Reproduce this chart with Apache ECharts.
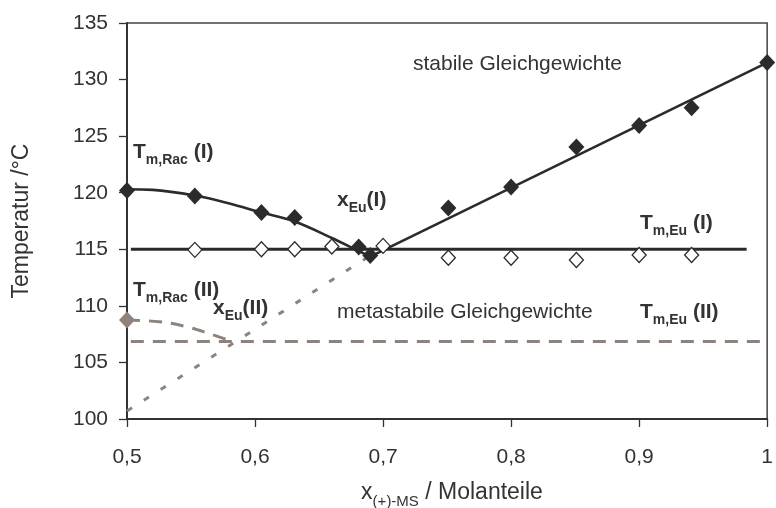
<!DOCTYPE html>
<html>
<head>
<meta charset="utf-8">
<script src="https://cdn.jsdelivr.net/npm/echarts@6/dist/echarts.min.js"></script>
<style>
  html, body { margin: 0; padding: 0; background: #fff; }
  #PhaseChart { width: 776px; height: 508px; }
</style>
</head>
<body>
<div id="PhaseChart"></div>
<script>
// axis ticks
const xTicks = [0.5, 0.6, 0.7, 0.8, 0.9, 1.0];
const yTicks = [100, 105, 110, 115, 120, 125, 130, 135];

// measured points: liquidus (filled) and eutectic (open) of form I
const filledX = [0.5, 0.553, 0.605, 0.631, 0.681, 0.69, 0.751, 0.8, 0.851, 0.9, 0.941, 1.0];
const filledT = [120.2, 119.7, 118.25, 117.8, 115.2, 114.45, 118.65, 120.5, 124.05, 125.95, 127.5, 131.5];
const openX = [0.553, 0.605, 0.631, 0.66, 0.7, 0.751, 0.8, 0.851, 0.9, 0.941];
const openT = [114.95, 115.0, 115.0, 115.25, 115.3, 114.25, 114.25, 114.05, 114.5, 114.5];
// melting point of racemate, form II
const racIIX = [0.5];
const racIIT = [108.75];

// fitted curves, stable (I)
const liqLeftX = [0.5, 0.52, 0.553, 0.58, 0.605, 0.63, 0.66, 0.68, 0.69];
const liqLeftT = [120.3, 120.25, 119.75, 119.05, 118.25, 117.5, 116.0, 114.9, 114.35];
const liqRightX = [0.69, 1.0];
const liqRightT = [114.35, 131.5];
const eutIX = [0.503, 0.984];
const eutIT = [115.0, 115.0];

// metastable (II)
const liqIIX = [0.5, 0.525, 0.545, 0.563, 0.582];
const liqIIT = [108.75, 108.6, 108.2, 107.6, 106.85];
const eutIIX = [0.503, 0.995];
const eutIIT = [106.85, 106.85];
const liqEuX = [0.5, 0.688];
const liqEuT = [100.7, 114.3];

const FONT = "'Liberation Sans', Arial, sans-serif";
const DARK = "#2b2b2b";
const GREY = "#8e827d";

const pts = (xs, ys) => xs.map((x, i) => [x, ys[i]]);

const boldRich = {
  b: { fontSize: 21, fontWeight: "bold", fontFamily: FONT, fill: "#333", lineHeight: 22 },
  s: { fontSize: 14, fontWeight: "bold", fontFamily: FONT, fill: "#333", lineHeight: 14,
       verticalAlign: "top", padding: [12, 0, 0, 0] },
};

function subText(x, y, text) {
  return {
    type: "text", x: x, y: y, z: 100,
    style: { text: text, rich: boldRich, align: "left", verticalAlign: "middle" },
  };
}
function plainText(x, y, text) {
  return {
    type: "text", x: x, y: y, z: 100,
    style: { text: text, fontSize: 21, fontFamily: FONT, fill: "#333", align: "left", verticalAlign: "middle" },
  };
}

const chart = echarts.init(document.getElementById("PhaseChart"));

const lineSeries = (data, style, smooth) => ({
  type: "line",
  data: data,
  symbol: "none",
  smooth: smooth || false,
  lineStyle: style,
  z: 2,
  silent: true,
});

const option = {
  animation: false,
  backgroundColor: "#fff",
  grid: {
    left: 127, right: 3, top: 23, bottom: 89,
    show: true, borderColor: "#444", borderWidth: 1.5, backgroundColor: "transparent",
  },
  xAxis: {
    type: "value",
    min: xTicks[0],
    max: xTicks[xTicks.length - 1],
    interval: 0.1,
    axisLine: { show: true, onZero: false, lineStyle: { color: "#333", width: 2 } },
    axisTick: { show: true, inside: false, length: 8, lineStyle: { color: "#333", width: 1.3 } },
    splitLine: { show: false },
    axisLabel: {
      margin: 28, fontSize: 21, color: "#333", fontFamily: FONT,
      showMinLabel: true, showMaxLabel: true,
      formatter: (v) => (Math.abs(v - 1) < 1e-9 ? "1" : v.toFixed(1).replace(".", ",")),
    },
  },
  yAxis: {
    type: "value",
    min: yTicks[0],
    max: yTicks[yTicks.length - 1],
    interval: 5,
    axisLine: { show: true, onZero: false, lineStyle: { color: "#333", width: 2 } },
    axisTick: { show: true, inside: false, length: 8, lineStyle: { color: "#333", width: 1.3 } },
    splitLine: { show: false },
    axisLabel: {
      margin: 19, fontSize: 21, color: "#333", fontFamily: FONT,
      showMinLabel: true, showMaxLabel: true,
    },
  },
  series: [
    lineSeries(pts(liqEuX, liqEuT), { color: GREY, width: 3, type: [6, 14] }),
    lineSeries(pts(eutIIX, eutIIT), { color: GREY, width: 3, type: [13, 9] }),
    lineSeries(pts(liqIIX, liqIIT), { color: GREY, width: 3, type: [13, 9] }, 0.4),
    lineSeries(pts(liqLeftX, liqLeftT), { color: DARK, width: 2.6 }, 0.35),
    lineSeries(pts(liqRightX, liqRightT), { color: DARK, width: 2.6 }),
    lineSeries(pts(eutIX, eutIT), { color: DARK, width: 3 }),
    {
      type: "scatter", data: pts(openX, openT), symbol: "diamond", symbolSize: [14, 15], z: 3,
      itemStyle: { color: "#fff", borderColor: DARK, borderWidth: 1.3, opacity: 1 },
    },
    {
      type: "scatter", data: pts(filledX, filledT), symbol: "diamond", symbolSize: [16, 17], z: 4,
      itemStyle: { color: DARK, opacity: 1 },
    },
    {
      type: "scatter", data: pts(racIIX, racIIT), symbol: "diamond", symbolSize: [16, 17], z: 4,
      itemStyle: { color: GREY, opacity: 1 },
    },
  ],
  graphic: [
    subText(133, 152, "{b|T}{s|m,Rac}{b| (I)}"),
    subText(337, 200, "{b|x}{s|Eu}{b|(I)}"),
    subText(640, 223, "{b|T}{s|m,Eu}{b| (I)}"),
    subText(133, 290, "{b|T}{s|m,Rac}{b| (II)}"),
    subText(213, 308, "{b|x}{s|Eu}{b|(II)}"),
    subText(640, 312, "{b|T}{s|m,Eu}{b| (II)}"),
    plainText(413, 64, "stabile Gleichgewichte"),
    plainText(337, 312, "metastabile Gleichgewichte"),
    {
      type: "text", x: 22, y: 221, rotation: Math.PI / 2,
      style: { text: "Temperatur /°C", fontSize: 23, fontFamily: FONT, fill: "#333",
               align: "center", verticalAlign: "middle" },
    },
    {
      type: "text", x: 452, y: 493,
      style: {
        text: "{m|x}{s|(+)-MS}{m| / Molanteile}",
        align: "center", verticalAlign: "middle",
        rich: {
          m: { fontSize: 23, fontFamily: FONT, fill: "#333", lineHeight: 24 },
          s: { fontSize: 15, fontFamily: FONT, fill: "#333", lineHeight: 15,
               verticalAlign: "top", padding: [13, 0, 0, 0] },
        },
      },
    },
  ],
};

chart.setOption(option);
</script>
</body>
</html>
